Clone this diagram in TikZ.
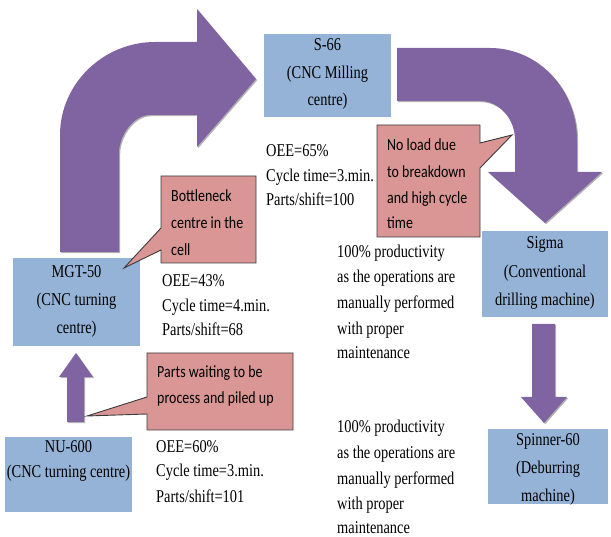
\documentclass[tikz,border=0pt]{standalone}
\usepackage{fontspec}
\newfontfamily\serifx[FakeStretch=0.8]{Liberation Serif}
\newfontfamily\calx[FakeStretch=0.82]{Carlito}
\usetikzlibrary{shadows}
\definecolor{boxblue}{HTML}{95B3D7}
\definecolor{arrpurple}{HTML}{8064A2}
\definecolor{callpink}{HTML}{D99694}
\definecolor{callline}{HTML}{3B3B3B}
\begin{document}
\begin{tikzpicture}[x=1pt,y=-1pt,
  machine/.style={fill=boxblue, draw=none, inner sep=0pt},
  blockarrow/.style={fill=arrpurple, draw=none, drop shadow={shadow xshift=1.2pt, shadow yshift=-1.2pt, fill=black, opacity=0.3}},
  callout/.style={fill=callpink, draw=callline, line width=0.9pt},
  seriftext/.style={font=\serifx\fontsize{18}{22}\selectfont, inner sep=0pt, anchor=base west},
  boxtext/.style={font=\serifx\fontsize{18}{22}\selectfont, inner sep=0pt, anchor=base},
  calltext/.style={font=\calx\fontsize{17}{20}\selectfont, inner sep=0pt, anchor=base west}]
\useasboundingbox (0,0) rectangle (611,537);

% machine boxes
\node[machine, minimum width=127pt, minimum height=83pt] (s66) at (327.5,75.5) {};
\node[machine, minimum width=127pt, minimum height=88pt] (mgt) at (76.5,302) {};
\node[machine, minimum width=127pt, minimum height=75pt] (nu) at (68.5,474.5) {};
\node[machine, minimum width=126pt, minimum height=86pt] (sigma) at (545,274) {};
\node[machine, minimum width=120pt, minimum height=75pt] (spin) at (548,466.5) {};

% box texts
\node[boxtext] (s66a) at (327.5,51) {S-66};
\node[boxtext] (s66b) at (327.5,79) {(CNC Milling};
\node[boxtext] (s66c) at (327.5,106) {centre)};
\node[boxtext] (mgta) at (76.5,278) {MGT-50};
\node[boxtext] (mgtb) at (76.5,306) {(CNC turning};
\node[boxtext] (mgtc) at (76.5,334) {centre)};
\node[boxtext] (nua) at (68.5,453) {NU-600};
\node[boxtext] (nub) at (68.5,478) {(CNC turning centre)};
\node[boxtext] (sga) at (545,249) {Sigma};
\node[boxtext] (sgb) at (545,278) {(Conventional};
\node[boxtext] (sgc) at (545,306) {drilling machine)};
\node[boxtext] (spa) at (548,446) {Spinner-60};
\node[boxtext] (spb) at (548,474) {(Deburring};
\node[boxtext] (spc) at (548,501) {machine)};

% block arrows
\path[blockarrow] (60,252) -- (60,135) .. controls (60,84) and (103,42) .. (155,42)
  -- (197,42) -- (197,9) -- (256,79) -- (197,147) -- (197,115) -- (150,115)
  .. controls (133,115) and (119,136) .. (119,153) -- (119,252) -- cycle;
\path[blockarrow] (397,48) -- (490,48) .. controls (538,48) and (577,89) .. (577,140)
  -- (577,172) -- (602,172) -- (545,223) -- (488,172) -- (515,172) -- (515,140)
  .. controls (515,118.5) and (499,101) .. (480,101) -- (397,101) -- cycle;
\path[blockarrow] (67,422) -- (67,377) -- (59,377) -- (76,353) -- (93,377) -- (84,377) -- (84,422) -- cycle;
\path[blockarrow] (532,324) -- (555,324) -- (555,397) -- (567,397) -- (544,423) -- (521,397) -- (532,397) -- cycle;

% callouts
\path[callout] (161,176) -- (256,176) -- (256,263) -- (161,263) -- (161,250) -- (124,268) -- (161,228) -- cycle;
\path[callout] (147,353) -- (293,353) -- (293,430) -- (147,430) -- (147,414) -- (87,416) -- (147,397) -- cycle;
\path[callout] (377,125) -- (480,125) -- (480,143) -- (512,135) -- (480,168) -- (480,237) -- (377,237) -- cycle;

\node[calltext] (bn1) at (171,202) {Bottleneck};
\node[calltext] (bn2) at (171,229) {centre in the};
\node[calltext] (bn3) at (171,256) {cell};
\node[calltext] (nl1) at (387,151) {No load due};
\node[calltext] (nl2) at (387,178) {to breakdown};
\node[calltext] (nl3) at (387,204) {and high cycle};
\node[calltext] (nl4) at (387,229) {time};
\node[calltext] (pw1) at (157,378) {Parts waiting to be};
\node[calltext] (pw2) at (157,404) {process and piled up};

% data texts
\node[seriftext] (o65a) at (266,157) {OEE=65\%};
\node[seriftext] (o65b) at (266,182) {Cycle time=3.min.};
\node[seriftext] (o65c) at (266,206) {Parts/shift=100};
\node[seriftext] (o43a) at (162,287) {OEE=43\%};
\node[seriftext] (o43b) at (162,312) {Cycle time=4.min.};
\node[seriftext] (o43c) at (162,336) {Parts/shift=68};
\node[seriftext] (o60a) at (156,453) {OEE=60\%};
\node[seriftext] (o60b) at (156,477) {Cycle time=3.min.};
\node[seriftext] (o60c) at (156,502) {Parts/shift=101};
\node[seriftext] (p1a) at (337,258) {100\% productivity};
\node[seriftext] (p1b) at (337,283) {as the operations are};
\node[seriftext] (p1c) at (337,309) {manually performed};
\node[seriftext] (p1d) at (337,335) {with proper};
\node[seriftext] (p1e) at (337,359) {maintenance};
\node[seriftext] (p2a) at (337,433) {100\% productivity};
\node[seriftext] (p2b) at (337,459) {as the operations are};
\node[seriftext] (p2c) at (337,484) {manually performed};
\node[seriftext] (p2d) at (337,509) {with proper};
\node[seriftext] (p2e) at (337,533) {maintenance};
\end{tikzpicture}
\end{document}
